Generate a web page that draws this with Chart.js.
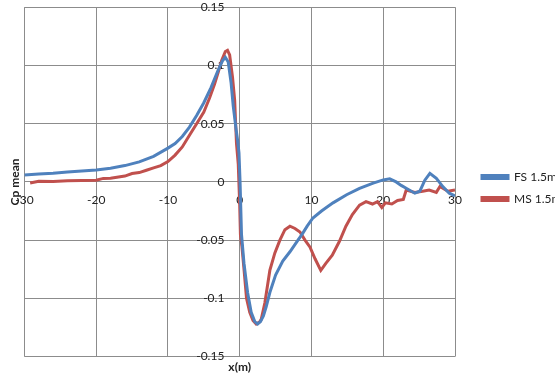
<!DOCTYPE html>
<html>
<head>
<meta charset="utf-8">
<script src="https://cdn.jsdelivr.net/npm/chart.js@4"></script>
<style>
html, body { margin: 0; padding: 0; background: #fff; }
#wrap { width: 555px; height: 379px; }
</style>
</head>
<body>
<div id="wrap"><canvas id="chart"></canvas></div>
<script>
// values
const fsX = [-30, -28, -26, -24, -22, -20, -18, -16, -14, -12, -10, -9, -8, -7, -6, -5, -4, -3, -2.4, -2.0, -1.6, -1.2, -0.9, -0.5, -0.3, -0.1, 0.05, 0.25, 0.6, 1.1, 1.6, 2.1, 2.5, 2.9, 3.3, 3.7, 4.2, 5.0, 6.0, 7.0, 8.0, 8.8, 9.4, 10.2, 11.4, 13, 14.9, 16.7, 18.6, 20, 20.9, 21.8, 22.5, 23.2, 24.4, 25.1, 25.8, 26.5, 27.4, 28.3, 29.2, 30];
const fsY = [0.006, 0.0068, 0.0075, 0.0085, 0.0093, 0.0103, 0.0118, 0.014, 0.0172, 0.022, 0.029, 0.033, 0.039, 0.047, 0.057, 0.068, 0.081, 0.096, 0.104, 0.107, 0.103, 0.085, 0.065, 0.045, 0.036, 0.025, 0, -0.045, -0.07, -0.095, -0.112, -0.12, -0.122, -0.12, -0.115, -0.107, -0.095, -0.08, -0.068, -0.06, -0.051, -0.044, -0.038, -0.031, -0.025, -0.018, -0.011, -0.0055, -0.001, 0.0017, 0.0026, 0, -0.003, -0.0055, -0.0097, -0.008, 0.0015, 0.0074, 0.003, -0.004, -0.0097, -0.012];

const msX = [-29.2, -28, -26, -24, -22, -20, -19, -18, -16, -15, -14, -13, -12, -11, -10, -9, -8, -7, -6, -5, -4.2, -3.5, -3, -2.5, -2.0, -1.7, -1.4, -1.0, -0.7, -0.45, -0.2, 0, 0.1, 0.3, 0.6, 0.95, 1.4, 1.85, 2.3, 2.8, 3.0, 3.5, 4.2, 4.9, 5.6, 6.3, 7.0, 7.7, 8.4, 9.1, 9.8, 10.5, 11.3, 12.0, 12.9, 13.9, 14.8, 15.7, 16.7, 17.6, 18.5, 19.2, 19.8, 20.3, 21.2, 22, 22.8, 23.2, 24.4, 25.5, 26.4, 27.4, 27.9, 29, 30];
const msY = [-0.001, 0.0005, 0.0003, 0.001, 0.0012, 0.0015, 0.003, 0.0032, 0.005, 0.0072, 0.008, 0.01, 0.012, 0.014, 0.0175, 0.023, 0.03, 0.04, 0.05, 0.06, 0.072, 0.084, 0.094, 0.1045, 0.112, 0.113, 0.109, 0.09, 0.07, 0.033, 0.015, -0.02, -0.045, -0.055, -0.075, -0.1, -0.112, -0.119, -0.122, -0.12, -0.118, -0.104, -0.076, -0.061, -0.05, -0.041, -0.038, -0.04, -0.043, -0.05, -0.056, -0.066, -0.076, -0.07, -0.063, -0.051, -0.038, -0.028, -0.02, -0.017, -0.019, -0.017, -0.022, -0.018, -0.019, -0.016, -0.015, -0.007, -0.009, -0.008, -0.007, -0.009, -0.004, -0.008, -0.007];

const seriesNames = ["FS 1.5m", "MS 1.5m"];
const xTicks = [-30, -20, -10, 0, 10, 20, 30];
const yTicks = [-0.15, -0.1, -0.05, 0, 0.05, 0.1, 0.15];

const toPoints = (xs, ys) => xs.map((x, i) => ({x: x, y: ys[i]}));
const gridColor = '#8c8c8c';
const font = {family: 'Lato', size: 12};

new Chart(document.getElementById('chart'), {
    type: 'line',
    data: {
        datasets: [{
            label: seriesNames[0],
            data: toPoints(fsX, fsY),
            borderColor: '#4F81BD',
            backgroundColor: '#4F81BD',
            borderWidth: 3,
            pointRadius: 0,
            tension: 0
        }, {
            label: seriesNames[1],
            data: toPoints(msX, msY),
            borderColor: '#C0504D',
            backgroundColor: '#C0504D',
            borderWidth: 3,
            pointRadius: 0,
            tension: 0
        }]
    },
    options: {
        responsive: true,
        maintainAspectRatio: false,
        animation: false,
        layout: {padding: {left: 4, top: 0, right: 0, bottom: 3}},
        plugins: {
            tooltip: {enabled: false},
            legend: {
                position: 'right',
                maxWidth: 83,
                labels: {
                    boxWidth: 26,
                    boxHeight: 3,
                    color: '#222',
                    font: font
                }
            }
        },
        scales: {
            x: {
                type: 'linear',
                min: -30, max: 30,
                position: {y: 0},
                afterBuildTicks: s => { s.ticks = xTicks.map(v => ({value: v})); },
                grid: {color: gridColor, drawTicks: true, tickLength: 11, tickColor: 'rgba(0,0,0,0)'},
                border: {color: gridColor},
                ticks: {color: '#222', font: font, padding: 0, maxRotation: 0, callback: v => String(v)}
            },
            y: {
                type: 'linear',
                min: -0.15, max: 0.15,
                position: {x: 0},
                afterBuildTicks: s => { s.ticks = yTicks.map(v => ({value: v})); },
                grid: {color: gridColor, drawTicks: true, tickLength: 11, tickColor: 'rgba(0,0,0,0)'},
                border: {color: gridColor},
                // labels sit right-aligned on the centred axis; trailing spaces push them off the line
                ticks: {color: '#222', font: font, padding: 0, callback: v => String(v) + '     '}
            },
            xt: {
                type: 'linear',
                position: 'bottom',
                grid: {display: false, drawTicks: false},
                border: {display: false},
                ticks: {display: false},
                title: {display: true, text: 'x(m)', color: '#222', font: {family: 'Lato', size: 12, weight: 'bold'}, padding: {top: 3, bottom: 2}}
            },
            yt: {
                type: 'linear',
                position: 'left',
                grid: {display: false, drawTicks: false},
                border: {display: false},
                ticks: {display: false},
                title: {display: true, text: 'Cp mean', color: '#222', font: {family: 'Lato', size: 12, weight: 'bold'}, padding: {top: 4, bottom: 2}}
            },
            yr: {
                type: 'linear',
                position: 'right',
                grid: {display: false, drawTicks: false},
                border: {display: false},
                ticks: {display: false},
                title: {display: true, text: ' ', font: {family: 'Lato', size: 10, lineHeight: 1}, padding: {top: 3.5, bottom: 3.5}}
            }
        }
    }
});
</script>
</body>
</html>
